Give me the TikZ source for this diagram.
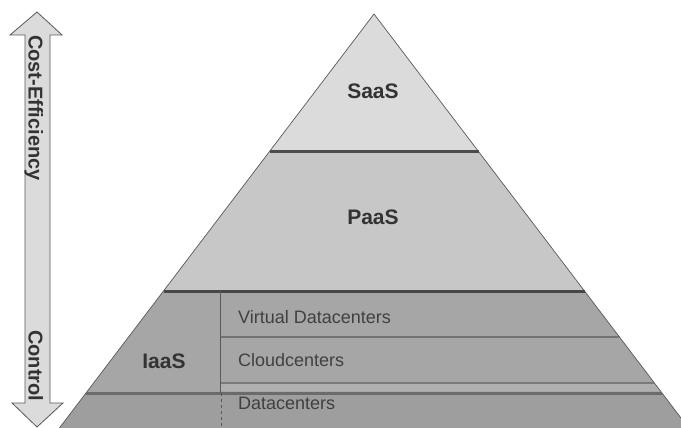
\documentclass[tikz,border=0pt]{standalone}
\usepackage{fontspec}
\setmainfont{Liberation Sans}
\begin{document}
\begin{tikzpicture}[x=1pt,y=-1pt,
  layerlabel/.style={font=\fontsize{21}{24}\selectfont\bfseries, text=black!80, inner sep=0pt},
  sublabel/.style={font=\fontsize{18}{21}\selectfont, text=black!75, anchor=west, inner sep=0pt},
  axislabel/.style={font=\fontsize{20}{23}\selectfont\bfseries, text=black!80, rotate=-90, anchor=base west, inner sep=0pt},
  sepline/.style={line cap=butt}]
\useasboundingbox (0,0) rectangle (681,428);
\clip (0,0) rectangle (681,428);
\fill[white] (0,0) rectangle (681,428);
% layers
\fill[fill=black!14] (374,14) -- (478.5,151.5) -- (269.5,151.5) -- cycle;
\fill[fill=black!22] (269.5,151.5) -- (478.5,151.5) -- (584.5,291) -- (163.5,291) -- cycle;
\fill[fill=black!35] (163.5,291) -- (584.5,291) -- (662,393) -- (86,393) -- cycle;
\fill[fill=black!31] (220,384) -- (655,384) -- (660,391) -- (220,391) -- cycle;
\fill[fill=black!38] (86,393) -- (662,393) -- (688.6,428) -- (59.4,428) -- cycle;
% outline
\draw[black!65, line width=0.7pt] (59.4,428) -- (374,14) -- (688.6,428);
% separators
\draw[sepline, black!70, line width=2.2pt] (269.5,151.5) -- (478.5,151.5);
\draw[sepline, black!72, line width=3pt] (163.5,291) -- (584.5,291);
\draw[sepline, black!55, line width=1.6pt] (220,337) -- (619.5,337);
\draw[sepline, black!52, line width=1.8pt] (220,383) -- (654.4,383);
\draw[sepline, black!58, line width=3pt] (86,393) -- (662,393);
\draw[black!65, line width=0.8pt] (220,291) -- (220,393);
\draw[black!65, line width=0.8pt, dashed] (221,393) -- (221,428);
% labels
\node[layerlabel] (saas) at (373,91) {SaaS};
\node[layerlabel] (paas) at (373,217) {PaaS};
\node[layerlabel] (iaas) at (164,361) {IaaS};
\node[sublabel] (vdc) at (238,317) {Virtual Datacenters};
\node[sublabel] (cc) at (238,360) {Cloudcenters};
\node[sublabel] (dc) at (238,403) {Datacenters};
% double arrow
\draw[fill=black!14, draw=black!65, line width=0.8pt]
  (37,12) -- (62,35) -- (50,35) -- (50,403) -- (63,403) -- (37,427)
  -- (12,403) -- (25,403) -- (25,35) -- (10,35) -- cycle;
\node[axislabel] (cost) at (28.5,35) {Cost-Efficiency};
\node[axislabel] (ctrl) at (28.5,330) {Control};
\end{tikzpicture}
\end{document}
